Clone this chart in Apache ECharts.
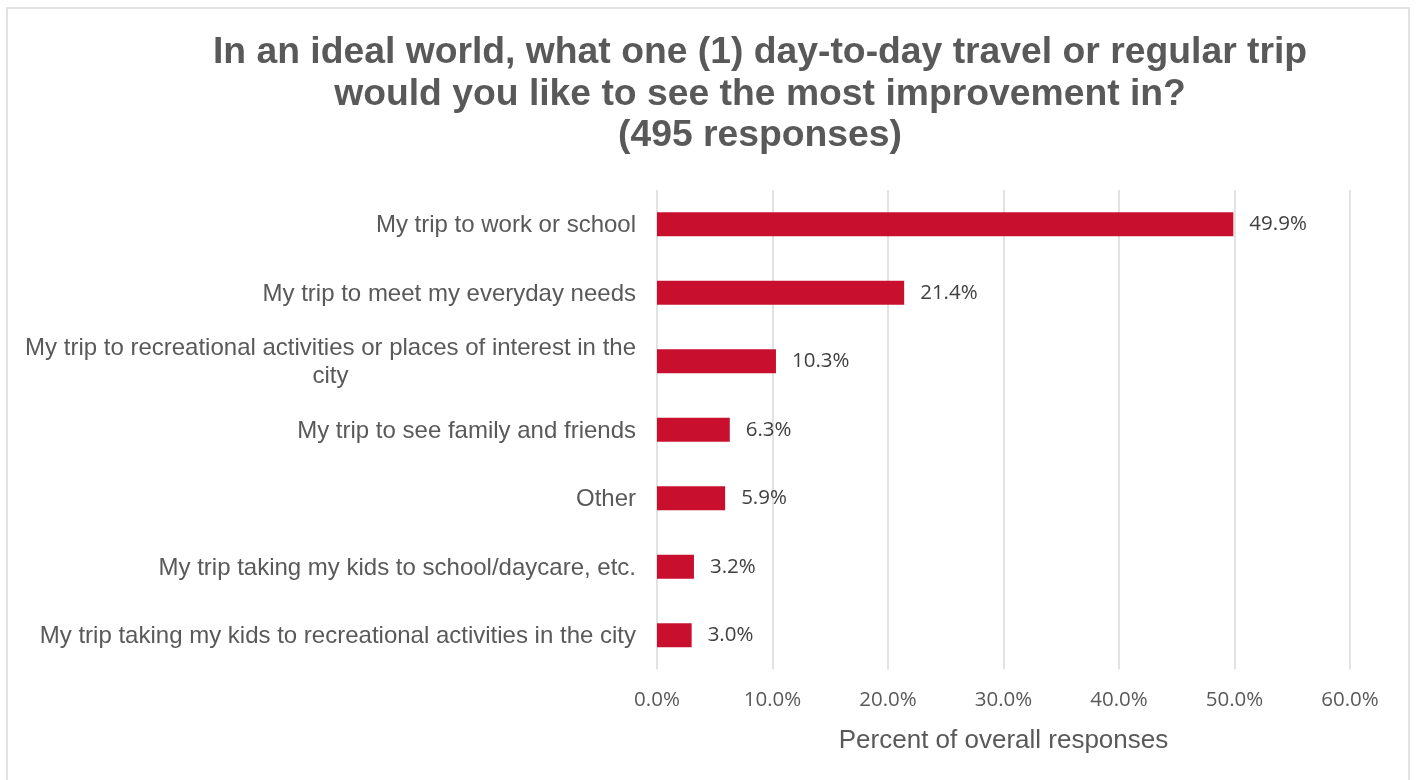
<!DOCTYPE html>
<html>
<head>
<meta charset="utf-8">
<script src="https://cdn.jsdelivr.net/npm/echarts@6/dist/echarts.min.js"></script>
<style>
  html, body { margin: 0; padding: 0; background: #fff; }
  #chart { width: 1416px; height: 780px; }
</style>
</head>
<body>
<div id="chart"></div>
<script>
// Survey answers, top to bottom
const categories = [
  'My trip to work or school',
  'My trip to meet my everyday needs',
  'My trip to recreational activities or places of interest in the city',
  'My trip to see family and friends',
  'Other',
  'My trip taking my kids to school/daycare, etc.',
  'My trip taking my kids to recreational activities in the city'
];
// Share of overall responses, in percent
const values = [49.9, 21.4, 10.3, 6.3, 5.9, 3.2, 3.0];
const xTicks = [0, 10, 20, 30, 40, 50, 60];

const titleText = 'In an ideal world, what one (1) day-to-day travel or regular trip\nwould you like to see the most improvement in?\n(495 responses)';

// Word-wrap long category names, keeping each line centered
function wrap(text, maxChars) {
  const words = text.split(' ');
  const lines = [];
  let line = '';
  words.forEach(w => {
    const next = line ? line + ' ' + w : w;
    if (next.length > maxChars && line) { lines.push(line); line = w; }
    else line = next;
  });
  if (line) lines.push(line);
  return lines.map(l => '{c|' + l + '}').join('\n');
}

const chart = echarts.init(document.getElementById('chart'), null, { renderer: 'canvas' });
chart.setOption({
  animation: false,
  backgroundColor: '#ffffff',
  graphic: [{
    type: 'rect',
    shape: { x: 7, y: 8, width: 1402, height: 800 },
    style: { fill: 'none', stroke: '#d9d9d9', lineWidth: 1.5 },
    silent: true
  }],
  title: {
    text: titleText,
    left: 755,
    top: 27,
    textAlign: 'center',
    textStyle: {
      fontFamily: 'Liberation Sans, Arial, sans-serif',
      fontSize: 37.3,
      fontWeight: 'bold',
      color: '#595959',
      lineHeight: 41.5
    }
  },
  grid: { left: 657, right: 66, top: 190, bottom: 110.5, containLabel: false },
  xAxis: {
    type: 'value',
    min: 0,
    max: 60,
    interval: 10,
    axisLine: { show: false },
    axisTick: { show: false },
    splitLine: { show: true, lineStyle: { color: '#d9d9d9', width: 1.5 } },
    axisLabel: {
      margin: 20,
      fontFamily: 'Open Sans, sans-serif',
      fontSize: 20.5,
      color: '#595959',
      formatter: v => xTicks.includes(v) ? v.toFixed(1) + '%' : ''
    },
    name: 'Percent of overall responses',
    nameLocation: 'middle',
    nameGap: 58,
    nameTextStyle: {
      fontFamily: 'Liberation Sans, Arial, sans-serif',
      fontSize: 26,
      color: '#595959'
    }
  },
  yAxis: {
    type: 'category',
    data: categories,
    inverse: true,
    axisLine: { show: false },
    axisTick: { show: false },
    splitLine: { show: false },
    axisLabel: {
      margin: 21,
      color: '#595959',
      fontFamily: 'Liberation Sans, Arial, sans-serif',
      fontSize: 24,
      lineHeight: 28,
      padding: [3, 0, 0, 0],
      formatter: v => wrap(v, 63),
      rich: {
        c: {
          align: 'center',
          fontFamily: 'Liberation Sans, Arial, sans-serif',
          fontSize: 24,
          lineHeight: 28,
          color: '#595959'
        }
      }
    }
  },
  series: [{
    type: 'bar',
    data: values,
    barWidth: '35%',
    itemStyle: { color: '#c8102e' },
    label: {
      show: true,
      position: 'right',
      distance: 16,
      fontFamily: 'Open Sans, sans-serif',
      fontSize: 20.5,
      color: '#404040',
      formatter: p => p.value.toFixed(1) + '%'
    }
  }]
});
</script>
</body>
</html>
